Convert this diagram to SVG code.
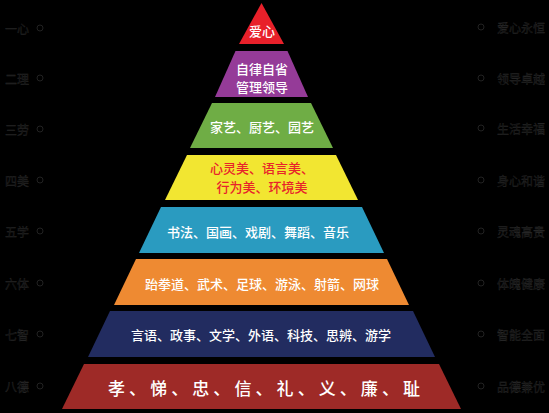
<svg xmlns="http://www.w3.org/2000/svg" width="549" height="413" viewBox="0 0 549 413">
<style>
.t{font-family:"Noto Sans CJK SC","Noto Sans",sans-serif;font-size:13px;font-weight:500;fill:#fff;text-anchor:middle;dominant-baseline:central}
.r{fill:#e8232b}
.side{font-family:"Noto Sans CJK SC",sans-serif;font-size:12px;fill:#0e0e0e;stroke:#2c2c2c;stroke-width:0.3;dominant-baseline:central}
.dot{fill:none;stroke:#222;stroke-width:1}
</style>
<rect width="549" height="413" fill="#000"/>
<g id="level1"><polygon points="261.5,3 284,44 239,44" fill="#e8202a"/><text class="t" x="262" y="30">爱心</text></g>
<g id="level2"><polygon points="235.5,51 287.5,51 308,97 215,97" fill="#953b98"/><text class="t" x="262" y="68">自律自省</text><text class="t" x="262" y="86">管理领导</text></g>
<g id="level3"><polygon points="212,103 311,103 333,148 190,148" fill="#6fad45"/><text class="t" x="262" y="126">家艺、厨艺、园艺</text></g>
<g id="level4"><polygon points="187,155 336,155 358,200 165,200" fill="#f2e631"/><text class="t r" x="262" y="167">心灵美、语言美、</text><text class="t r" x="262" y="186">行为美、环境美</text></g>
<g id="level5"><polygon points="161,207 362,207 384,253 139,253" fill="#2a9bc0"/><text class="t" x="258" y="231">书法、国画、戏剧、舞蹈、音乐</text></g>
<g id="level6"><polygon points="136,259 387,259 409,305 114,305" fill="#ee8a32"/><text class="t" x="262" y="283">跆拳道、武术、足球、游泳、射箭、网球</text></g>
<g id="level7"><polygon points="110,311 413,311 435,357 88,357" fill="#222c60"/><text class="t" x="261" y="334">言语、政事、文学、外语、科技、思辨、游学</text></g>
<g id="level8"><polygon points="84,364 439,364 461,409 62,409" fill="#9e2a27"/><text class="t" x="264" y="387" style="font-size:17px" textLength="312" lengthAdjust="spacing">孝、悌、忠、信、礼、义、廉、耻</text></g>
<g id="left-labels">
<text class="side" x="5" y="28">一心</text><circle class="dot" cx="40" cy="28" r="3"/>
<text class="side" x="5" y="78">二理</text><circle class="dot" cx="40" cy="78" r="3"/>
<text class="side" x="5" y="129">三劳</text><circle class="dot" cx="40" cy="129" r="3"/>
<text class="side" x="5" y="180">四美</text><circle class="dot" cx="40" cy="180" r="3"/>
<text class="side" x="5" y="231">五学</text><circle class="dot" cx="40" cy="231" r="3"/>
<text class="side" x="5" y="283">六体</text><circle class="dot" cx="40" cy="283" r="3"/>
<text class="side" x="5" y="334">七智</text><circle class="dot" cx="40" cy="334" r="3"/>
<text class="side" x="5" y="386">八德</text><circle class="dot" cx="40" cy="386" r="3"/>
</g>
<g id="right-labels">
<circle class="dot" cx="481" cy="27" r="3"/><text class="side" x="497" y="27">爱心永恒</text>
<circle class="dot" cx="481" cy="78" r="3"/><text class="side" x="497" y="78">领导卓越</text>
<circle class="dot" cx="481" cy="128" r="3"/><text class="side" x="497" y="128">生活幸福</text>
<circle class="dot" cx="481" cy="180" r="3"/><text class="side" x="497" y="180">身心和谐</text>
<circle class="dot" cx="481" cy="231" r="3"/><text class="side" x="497" y="231">灵魂高贵</text>
<circle class="dot" cx="481" cy="283" r="3"/><text class="side" x="497" y="283">体魄健康</text>
<circle class="dot" cx="481" cy="334" r="3"/><text class="side" x="497" y="334">智能全面</text>
<circle class="dot" cx="481" cy="386" r="3"/><text class="side" x="497" y="386">品德兼优</text>
</g>
</svg>
